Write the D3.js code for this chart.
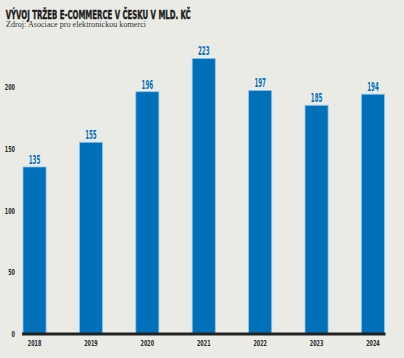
<!DOCTYPE html>
<html><head><meta charset="utf-8">
<script src="https://cdn.jsdelivr.net/npm/d3@7"></script>
<style>html,body{margin:0;padding:0;background:#EBEBE6;}svg{display:block;}</style>
</head><body>
<script>
const years = ["2018","2019","2020","2021","2022","2023","2024"];
const values = [135,155,196,223,197,185,194];
const yTicks = [0,50,100,150,200];
const title = "VÝVOJ TRŽEB E-COMMERCE V ČESKU V MLD. KČ";
const subtitle = "Zdroj: Asociace pro elektronickou komerci";

const W=404,H=358;
const svg=d3.select("body").append("svg").attr("width",W).attr("height",H);
svg.append("rect").attr("width",W).attr("height",H).attr("fill","#EBEBE6");

const COND="'DejaVu Sans Condensed','DejaVu Sans',sans-serif";

svg.append("text").attr("x",5.7).attr("y",18.6)
  .attr("font-family",COND).attr("font-weight","bold").attr("font-size",13)
  .attr("fill","#1e1e1e").attr("stroke","#1e1e1e").attr("stroke-width",0.45)
  .attr("textLength",185).attr("lengthAdjust","spacingAndGlyphs")
  .text(title);
svg.append("text").attr("x",6).attr("y",27.4)
  .attr("font-family","'Liberation Serif',serif").attr("font-size",8.4)
  .attr("fill","#333").attr("textLength",140).attr("lengthAdjust","spacingAndGlyphs")
  .text(subtitle);

const x=d3.scaleBand().domain(years).range([22.5,385]).paddingInner(0.573).paddingOuter(0);
const y=d3.scaleLinear().domain([0,250]).range([333.5,25.1]);

// bars
svg.append("g").selectAll("rect").data(values).join("rect")
  .attr("x",(d,i)=>x(years[i])+0.5).attr("y",d=>y(d))
  .attr("width",x.bandwidth()-1).attr("height",d=>y(0)-y(d))
  .attr("fill","#0070BA").attr("stroke","#8EC6E8").attr("stroke-width",0.8);

// baseline
svg.append("line").attr("x1",22).attr("x2",385.5).attr("y1",y(0)+0.5).attr("y2",y(0)+0.5)
  .attr("stroke","#222").attr("stroke-width",3);

function condText(g,xx,yy,str,size,sx,anchor,fill){
  g.append("g").attr("transform",`translate(${xx},${yy}) scale(${sx},1)`)
   .append("text").attr("text-anchor",anchor)
   .attr("font-family",COND).attr("font-weight","bold").attr("font-size",size)
   .attr("fill",fill).text(str);
}

// y axis labels
const yAxis=d3.axisLeft(y).tickValues(yTicks).tickSize(0).tickPadding(0);
const ya=svg.append("g").attr("transform","translate(15,0)").call(yAxis);
ya.select(".domain").remove();
ya.selectAll(".tick text").remove();
ya.selectAll(".tick").each(function(d){
  condText(d3.select(this),0,3,String(d),8.2,0.66,"end","#2a2a2a");
});

// x axis labels
const xAxis=d3.axisBottom(x).tickSize(0).tickPadding(0);
const xa=svg.append("g").attr("transform","translate(0,345.7)").call(xAxis);
xa.select(".domain").remove();
xa.selectAll(".tick text").remove();
xa.selectAll(".tick").each(function(d){
  condText(d3.select(this),0,0,d,8.2,0.66,"middle","#2a2a2a");
});

// value labels
const vl=svg.append("g");
values.forEach((v,i)=>{
  condText(vl,x(years[i])+x.bandwidth()/2,y(v)-3,String(v),11.4,0.54,"middle","#0070BA");
});
</script>
</body></html>
